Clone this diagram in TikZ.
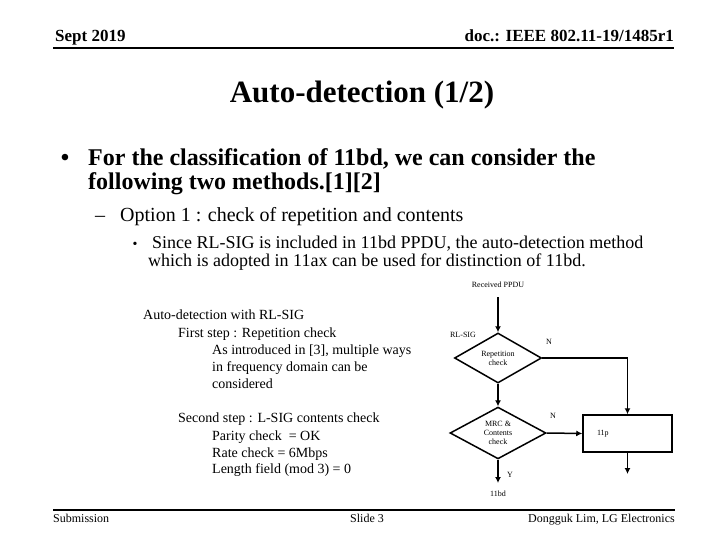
\documentclass[tikz,border=0pt]{standalone}
\usepackage{fontspec}
\setmainfont{Liberation Serif}
\usetikzlibrary{shapes.geometric,arrows.meta}
\begin{document}
\begin{tikzpicture}[x=1pt,y=-1pt,
  hdr/.style={font=\bfseries\fontsize{17}{20}\selectfont,inner sep=0},
  ttl/.style={font=\bfseries\fontsize{31}{36}\selectfont,inner sep=0},
  lvA/.style={font=\bfseries\fontsize{24}{28}\selectfont,inner sep=0,anchor=base west},
  lvB/.style={font=\fontsize{20}{24}\selectfont,inner sep=0,anchor=base west},
  lvC/.style={font=\fontsize{18}{21}\selectfont,inner sep=0,anchor=base west},
  body/.style={font=\fontsize{14}{17}\selectfont,inner sep=0,anchor=base west},
  foot/.style={font=\fontsize{12}{14}\selectfont,inner sep=0},
  fc/.style={font=\fontsize{8}{9}\selectfont,inner sep=0,align=center},
  diam/.style={diamond,draw,line width=1.5pt,inner sep=0,font=\fontsize{8}{9}\selectfont,align=center},
  flowbox/.style={draw,line width=1.5pt,inner sep=0,font=\fontsize{8}{9}\selectfont,align=left,text width=61pt},
  arr/.style={line width=1.5pt,-{Latex[length=6pt,width=6pt]}},
  rule/.style={line width=2pt}]
\useasboundingbox (0,0) rectangle (720,540);
% header
\node[hdr,anchor=base west] (date) at (55,42) {Sept 2019};
\node[hdr,anchor=base east] (doc) at (674,42) {doc.: IEEE 802.11-19/1485r1};
\coordinate (hl) at (53,48);
\coordinate (hr) at (674,48);
\draw[rule] (hl) -- (hr);
% title
\node[ttl] (title) at (362,95) {Auto-detection (1/2)};
% bullets
\node[lvA,anchor=base] (b1) at (65,166) {•};
\node[lvA] (l1) at (88,166) {For the classification of 11bd, we can consider the};
\node[lvA] (l2) at (88,190) {following two methods.[1][2]};
\node[lvB] (dash) at (95,222) {–};
\node[lvB] (opt) at (120,222) {Option 1 : check of repetition and contents};
\node[lvC,anchor=base,font=\fontsize{14}{17}\selectfont] (b3) at (135,248) {•};
\node[lvC] (since) at (152,248) {Since RL-SIG is included in 11bd PPDU, the auto-detection method};
\node[lvC] (which) at (148,266) {which is adopted in 11ax can be used for distinction of 11bd.};
% left body
\node[body] (t1) at (143,319) {Auto-detection with RL-SIG};
\node[body] (t2) at (178,337) {First step : Repetition check};
\node[body] (t3) at (212,354) {As introduced in [3], multiple ways};
\node[body] (t4) at (212,371) {in frequency domain can be};
\node[body] (t5) at (212,388) {considered};
\node[body] (t6) at (178,422) {Second step : L-SIG contents check};
\node[body] (t7) at (212,440) {Parity check\ \ = OK};
\node[body] (t8) at (212,457) {Rate check = 6Mbps};
\node[body] (t9) at (212,473) {Length field (mod 3) = 0};
% flowchart
\node[fc] (rx) at (498,285) {Received PPDU};
\coordinate (rxs) at (498,297);
\node[diam,minimum width=87pt,minimum height=50pt] (d1) at (498,358) {Repetition\\check};
\node[fc] (rl) at (463,335) {RL-SIG};
\node[fc] (n1) at (549,342) {N};
\node[diam,minimum width=96pt,minimum height=50pt] (d2) at (498,433) {MRC \&\\Contents\\check};
\node[fc] (n2) at (553,416) {N};
\node[flowbox,minimum width=89pt,minimum height=37pt] (box) at (627.5,433.5) {11p};
\coordinate (boxend) at (627.5,474);
\coordinate (d2end) at (498,483);
\node[fc] (yy) at (510,475) {Y};
\node[fc] (out) at (498,494) {11bd};
\draw[arr] (rxs) -- (d1.north);
\draw[arr] (d1.south) -- (d2.north);
\draw[arr] (d1.east) -| (box.north);
\draw[arr] (d2.east) -- (box.west);
\draw[arr] (box.south) -- (boxend);
\draw[arr] (d2.south) -- (d2end);
% footer
\coordinate (fl) at (53,510);
\coordinate (fr) at (675,510);
\draw[rule] (fl) -- (fr);
\node[foot,anchor=base west] (sub) at (53,522) {Submission};
\node[foot,anchor=base] (slide) at (367,522) {Slide 3};
\node[foot,anchor=base east] (auth) at (675,522) {Dongguk Lim, LG Electronics};
\end{tikzpicture}
\end{document}
